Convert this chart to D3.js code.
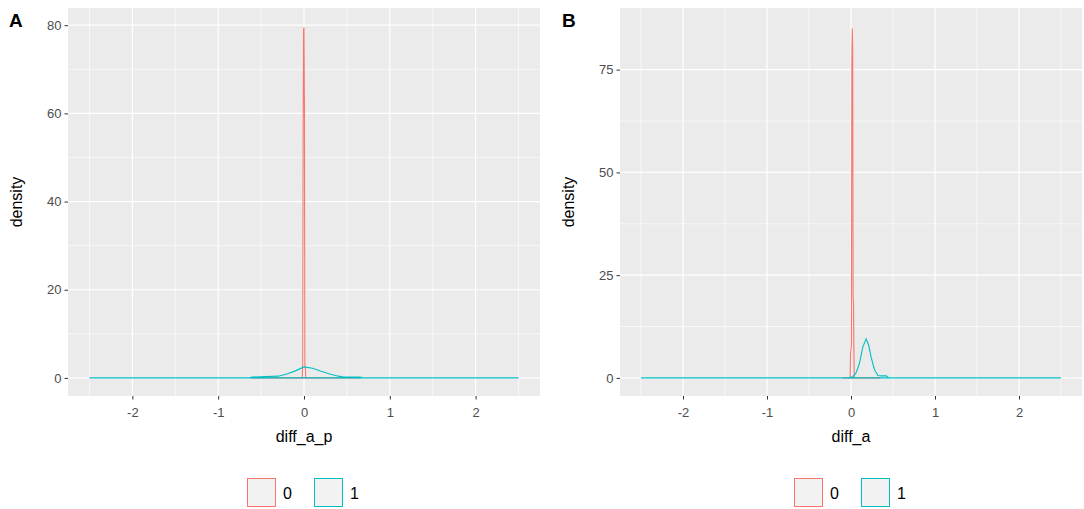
<!DOCTYPE html>
<html><head><meta charset="utf-8">
<script src="https://cdn.jsdelivr.net/npm/d3@7"></script>
<style>body{margin:0;background:#fff}text{font-family:"Liberation Sans",Arial,sans-serif}</style>
</head><body><svg></svg>
<script>
// 1. Data
const xTicks = [-2, -1, 0, 1, 2];
const aRedX = [-0.62, -0.02, -0.015, -0.01, -0.005, 0, 0.005, 0.01, 0.015, 0.02, 0.65];
const aRedY = [0, 0, 3, 55, 79, 79.5, 62, 3, 2.5, 0, 0];
const aTealX = [-2.5, -0.65, -0.6, -0.3, -0.2, -0.1, 0, 0.1, 0.2, 0.3, 0.4, 0.45, 0.65, 0.7, 2.5];
const aTealY = [0, 0, 0.2, 0.4, 0.9, 1.6, 2.5, 2.2, 1.5, 0.9, 0.4, 0.25, 0.2, 0, 0];
const bRedX = [-0.1, -0.01, -0.005, 0.005, 0.01, 0.015, 0.02, 0.025, 0.03, 0.035, 0.04, 0.35];
const bRedY = [0, 0, 6, 8, 76, 85, 80, 20, 18, 5, 0, 0];
const bTealX = [-2.5, -0.05, 0.02, 0.06, 0.1, 0.14, 0.18, 0.21, 0.24, 0.28, 0.32, 0.36, 0.42, 0.45, 2.5];
const bTealY = [0, 0, 0.3, 1.2, 3.5, 7.5, 9.5, 8, 5, 2, 0.6, 0.5, 0.5, 0, 0];
const groups = ["0", "1"];
const colors = ["#F8766D", "#00BFC4"];

const svg = d3.select("svg").attr("width", 1084).attr("height", 509);

function panel(o) {
  const g = svg.append("g");
  const x = d3.scaleLinear().domain([-2.75, 2.75]).range([o.left, o.right]);
  const y = d3.scaleLinear().domain([o.ymin, o.ymax]).range([o.bottom, o.top]);
  g.append("rect").attr("x", o.left).attr("y", o.top)
    .attr("width", o.right - o.left).attr("height", o.bottom - o.top).attr("fill", "#EBEBEB");
  // minor grid
  const xMinor = d3.range(-2.5, 2.6, 1), yMinor = o.yMinor;
  g.selectAll(".xm").data(xMinor).join("line")
    .attr("x1", d => x(d)).attr("x2", d => x(d)).attr("y1", o.top).attr("y2", o.bottom)
    .attr("stroke", "#fff").attr("stroke-width", 0.6);
  g.selectAll(".ym").data(yMinor).join("line")
    .attr("x1", o.left).attr("x2", o.right).attr("y1", d => y(d)).attr("y2", d => y(d))
    .attr("stroke", "#fff").attr("stroke-width", 0.6);
  g.selectAll(".xg").data(xTicks).join("line")
    .attr("x1", d => x(d)).attr("x2", d => x(d)).attr("y1", o.top).attr("y2", o.bottom)
    .attr("stroke", "#fff").attr("stroke-width", 1.2);
  g.selectAll(".yg").data(o.yTicks).join("line")
    .attr("x1", o.left).attr("x2", o.right).attr("y1", d => y(d)).attr("y2", d => y(d))
    .attr("stroke", "#fff").attr("stroke-width", 1.2);

  const line = d3.line().x(d => x(d[0])).y(d => y(d[1]));
  o.series.forEach((s, i) => {
    g.append("path").datum(d3.zip(s[0], s[1]).concat([[s[0][0], 0]]))
      .attr("d", line).attr("fill", "none").attr("stroke", colors[i]).attr("stroke-width", 1.1);
  });

  const xa = g.append("g").attr("transform", `translate(0,${o.bottom})`)
    .call(d3.axisBottom(x).tickValues(xTicks).tickFormat(d => String(d)).tickSize(3.5).tickSizeOuter(0));
  const ya = g.append("g").attr("transform", `translate(${o.left},0)`)
    .call(d3.axisLeft(y).tickValues(o.yTicks).tickFormat(d => String(d)).tickSize(3.5).tickSizeOuter(0));
  [xa, ya].forEach(a => {
    a.select(".domain").remove();
    a.selectAll("line").attr("stroke", "#333");
    a.selectAll("text").attr("fill", "#4D4D4D").style("font-size", "13px");
  });
  xa.selectAll("text").attr("dy", "1.1em");

  g.append("text").attr("x", (o.left + o.right) / 2).attr("y", o.bottom + 46)
    .attr("text-anchor", "middle").style("font-size", "16px").text(o.xlab);
  g.append("text").attr("transform", `translate(${o.left - 46},${(o.top + o.bottom) / 2}) rotate(-90)`)
    .attr("text-anchor", "middle").style("font-size", "16px").text("density");
  g.append("text").attr("x", o.tagX).attr("y", 27).style("font-size", "19px")
    .style("font-weight", "bold").text(o.tag);

  // legend
  const lg = g.append("g").attr("transform", `translate(${(o.left + o.right) / 2 - 57},478)`);
  groups.forEach((k, i) => {
    lg.append("rect").attr("x", i * 67 + 0.5).attr("y", 0.5).attr("width", 28).attr("height", 28)
      .attr("fill", "#F2F2F2").attr("stroke", colors[i]);
    lg.append("text").attr("x", i * 67 + 36).attr("y", 21).style("font-size", "16px").text(k);
  });
}

panel({left: 68, right: 540, top: 8, bottom: 396, ymin: -4.1, ymax: 83.9,
  yTicks: [0, 20, 40, 60, 80], yMinor: [10, 30, 50, 70], xlab: "diff_a_p", tag: "A", tagX: 9,
  series: [[aRedX, aRedY], [aTealX, aTealY]]});
panel({left: 620, right: 1082, top: 8, bottom: 396, ymin: -4.4, ymax: 90,
  yTicks: [0, 25, 50, 75], yMinor: [12.5, 37.5, 62.5], xlab: "diff_a", tag: "B", tagX: 562,
  series: [[bRedX, bRedY], [bTealX, bTealY]]});
</script></body></html>
